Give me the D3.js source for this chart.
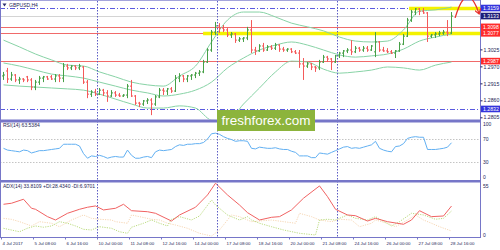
<!DOCTYPE html>
<html>
<head>
<meta charset="utf-8">
<script src="https://d3js.org/d3.v7.min.js"></script>
<style>
  body { margin:0; background:#ffffff; }
  svg text { font-family: "Liberation Sans", Arial, sans-serif; }
</style>
</head>
<body>
<svg id="chart" width="500" height="250"></svg>
<script>
// GBPUSD H4, 4 Jul 2017 00:00 .. 28 Jul 2017 16:00 (113 bars)
var opens = [1.2939,1.2955,1.2929,1.2942,1.2926,1.2929,1.2936,1.2926,1.2903,1.2919,
  1.2932,1.2936,1.2936,1.2929,1.2939,1.2932,1.2971,1.2965,1.2971,1.2965,
  1.2968,1.2919,1.2880,1.2887,1.2880,1.2893,1.2884,1.2874,1.2884,1.2877,
  1.2874,1.2877,1.2906,1.2874,1.2851,1.2848,1.2858,1.2861,1.2848,1.2871,
  1.2893,1.2890,1.2897,1.2890,1.2932,1.2939,1.2929,1.2939,1.2942,1.2948,
  1.2952,1.2984,1.3023,1.3081,1.3101,1.3094,1.3088,1.3072,1.3075,1.3055,
  1.3059,1.3062,1.3088,1.3023,1.3020,1.3036,1.3023,1.3033,1.3029,1.3039,
  1.3026,1.3023,1.3026,1.3017,1.3013,1.2978,1.2971,1.2978,1.2968,1.2965,
  1.2984,1.3000,1.2994,1.2984,1.3004,1.3013,1.3020,1.3023,1.3017,1.3029,
  1.3023,1.3029,1.3023,1.3017,1.3049,1.3023,1.3020,1.3017,1.3013,1.3020,
  1.3042,1.3068,1.3120,1.3146,1.3156,1.3149,1.3143,1.3068,1.3072,1.3075,
  1.3078,1.3081,1.3078];
var highs = [1.2952,1.2965,1.2952,1.2945,1.2936,1.2932,1.2939,1.2932,1.2926,1.2939,
  1.2939,1.2939,1.2942,1.2945,1.2945,1.2981,1.2978,1.2974,1.2974,1.2978,
  1.2971,1.2926,1.2893,1.2897,1.2900,1.2897,1.2893,1.2893,1.2890,1.2884,
  1.2880,1.2913,1.2926,1.2877,1.2855,1.2861,1.2867,1.2867,1.2877,1.2900,
  1.2900,1.2900,1.2903,1.2942,1.2948,1.2942,1.2942,1.2945,1.2952,1.2958,
  1.2991,1.3029,1.3088,1.3114,1.3110,1.3104,1.3094,1.3081,1.3078,1.3065,
  1.3065,1.3098,1.3120,1.3033,1.3042,1.3046,1.3039,1.3039,1.3046,1.3042,
  1.3033,1.3029,1.3029,1.3023,1.3023,1.2997,1.2984,1.2981,1.2971,1.2991,
  1.3007,1.3004,1.2997,1.3007,1.3017,1.3023,1.3029,1.3055,1.3036,1.3033,
  1.3036,1.3036,1.3039,1.3081,1.3052,1.3033,1.3029,1.3023,1.3023,1.3049,
  1.3075,1.3127,1.3153,1.3159,1.3159,1.3159,1.3146,1.3075,1.3081,1.3085,
  1.3088,1.3120,1.3146];
var lows = [1.2926,1.2916,1.2923,1.2919,1.2913,1.2919,1.2919,1.2893,1.2893,1.2910,
  1.2919,1.2926,1.2926,1.2919,1.2919,1.2919,1.2958,1.2958,1.2958,1.2958,
  1.2913,1.2867,1.2871,1.2874,1.2877,1.2874,1.2855,1.2871,1.2871,1.2871,
  1.2871,1.2867,1.2871,1.2845,1.2838,1.2842,1.2848,1.2812,1.2842,1.2867,
  1.2877,1.2877,1.2884,1.2887,1.2919,1.2919,1.2919,1.2926,1.2932,1.2939,
  1.2948,1.2981,1.3017,1.3072,1.3078,1.3081,1.3065,1.3062,1.3046,1.3049,
  1.3049,1.3055,1.3013,1.3007,1.3017,1.3017,1.3020,1.3023,1.3023,1.3017,
  1.3017,1.3017,1.3013,1.3010,1.2965,1.2926,1.2965,1.2958,1.2952,1.2958,
  1.2981,1.2984,1.2958,1.2981,1.2997,1.3000,1.3013,1.3007,1.3013,1.3017,
  1.3017,1.3017,1.3020,1.3000,1.3017,1.3017,1.3013,1.3010,1.2997,1.3017,
  1.3039,1.3065,1.3114,1.3136,1.3136,1.3140,1.3049,1.3062,1.3062,1.3068,
  1.3072,1.3068,1.3075];
var closes = [1.2942,1.2929,1.2942,1.2926,1.2929,1.2926,1.2926,1.2903,1.2919,1.2932,
  1.2936,1.2929,1.2929,1.2939,1.2932,1.2971,1.2965,1.2971,1.2965,1.2971,
  1.2919,1.2880,1.2887,1.2880,1.2893,1.2884,1.2874,1.2884,1.2877,1.2874,
  1.2877,1.2906,1.2874,1.2851,1.2848,1.2858,1.2861,1.2848,1.2871,1.2893,
  1.2890,1.2897,1.2890,1.2932,1.2939,1.2929,1.2939,1.2942,1.2948,1.2952,
  1.2984,1.3023,1.3081,1.3101,1.3094,1.3088,1.3072,1.3075,1.3055,1.3059,
  1.3062,1.3088,1.3023,1.3020,1.3036,1.3023,1.3033,1.3029,1.3039,1.3026,
  1.3023,1.3026,1.3017,1.3013,1.2978,1.2971,1.2978,1.2968,1.2965,1.2984,
  1.3000,1.2994,1.2984,1.3004,1.3013,1.3020,1.3023,1.3017,1.3029,1.3023,
  1.3029,1.3023,1.3036,1.3049,1.3023,1.3020,1.3017,1.3013,1.3020,1.3042,
  1.3068,1.3120,1.3146,1.3156,1.3149,1.3143,1.3068,1.3072,1.3075,1.3078,
  1.3081,1.3078,1.3133];

// Bollinger bands read every 4 bars
var bbIdx = [0,4,8,12,16,20,24,28,32,36,40,44,48,52,56,60,64,68,72,76,80,84,88,92,96,100,104,108,112];
var bbUpper = [1.3055,1.3033,1.3010,1.2991,1.2974,1.2971,1.2952,1.2936,1.2919,1.2910,1.2906,1.2939,1.2971,1.3049,1.3120,1.3146,1.3146,1.3130,1.3110,1.3098,1.3085,1.3065,1.3052,1.3049,1.3052,1.3088,1.3149,1.3153,1.3162];
var bbMiddle = [1.2981,1.2971,1.2958,1.2945,1.2939,1.2932,1.2919,1.2906,1.2893,1.2884,1.2874,1.2880,1.2893,1.2919,1.2965,1.2997,1.3023,1.3039,1.3049,1.3039,1.3023,1.3007,1.3000,1.3004,1.3010,1.3026,1.3052,1.3065,1.3075];
var bbLower = [1.2910,1.2906,1.2903,1.2900,1.2897,1.2893,1.2880,1.2864,1.2848,1.2835,1.2835,1.2842,1.2835,1.2796,1.2793,1.2848,1.2900,1.2952,1.2987,1.2984,1.2961,1.2948,1.2952,1.2958,1.2968,1.2965,1.2958,1.2974,1.2984];

var rsi = [54,51,50,49,48,51,50,46,48,50,
  50,51,52,53,54,61,61,61,61,58,
  45,37,41,40,42,40,37,39,40,39,
  39,51,42,37,37,39,40,38,48,51,
  50,51,52,57,60,59,61,61,62,62,
  64,70,79,80,78,74,71,69,66,67,
  67,66,54,53,56,55,54,54,55,53,
  52,52,49,47,41,41,41,38,38,46,
  45,44,47,50,53,56,57,54,55,54,
  56,58,60,66,54,51,49,48,57,58,
  62,71,73,74,73,73,52,52,52,53,
  54,56,63.5384];

// [bar, value]
var adxPts = [[0,35.7],[2,36.8],[5,41.1],[7,31.4],[8,30.3],[11,22.4],[13,18.8],[16,26],[19,30.3],[21,32.5],[23,33.9],[25,29.6],[28,31.4],[30,35.7],[32,28.8],[36,27.7],[38,26],[42,17.7],[44,24.2],[48,32.5],[51,45.7],[53,58.3],[56,45.7],[59,34.9],[61,26.7],[64,18.8],[67,21.7],[69,22.4],[72,29.6],[75,42.2],[79,55.4],[81,43.9],[83,30.3],[86,24.2],[88,23.4],[91,17.7],[93,20.6],[96,17],[100,14.2],[102,18.8],[104,28.8],[107,22.4],[110,23.1],[112,33.8109]];
var plusDiPts = [[0,9.9],[2,8],[4,6.2],[6,10],[8,12.4],[10,11],[12,12.4],[14,17],[16,15.3],[18,12.4],[20,8.8],[22,8.1],[24,11.6],[27,9.9],[29,6.2],[31,4.5],[32,11],[35,15.3],[37,18.8],[39,15.3],[41,12.4],[42,19.6],[44,22.4],[47,18.8],[49,23.1],[52,40.3],[53,34.9],[56,24.2],[59,18.8],[61,22.4],[62,18.8],[64,15.3],[67,11.6],[70,8.1],[74,4.5],[78,2.7],[79,18.8],[81,19.6],[83,18.8],[86,24.2],[88,20.6],[91,18.8],[93,22.4],[97,12.4],[99,17],[102,26],[105,24.2],[108,19.6],[110,20.6],[112,28.434]];
var minusDiPts = [[0,20.6],[2,19.5],[4,17],[7,12.4],[9,17],[12,15.3],[14,11.6],[17,18.8],[20,24.2],[22,20.6],[24,19.6],[27,18.8],[28,17],[31,15.3],[32,24.2],[34,22.4],[37,19.6],[39,18.8],[41,15.3],[43,13.4],[46,9.9],[49,4.5],[52,1.6],[54,8.1],[57,24.2],[59,22.4],[61,18.8],[62,17],[67,18.8],[70,17],[73,15.3],[74,26],[77,22.4],[79,18.8],[82,17],[84,19.6],[87,18.8],[89,11.6],[92,15.3],[93,18.8],[96,15.3],[98,11.6],[101,18.8],[103,24.2],[105,18.8],[107,15.3],[109,11.6],[112,6.9701]];

// levels and axis labels
var redLevels = [1.3098, 1.3077, 1.2987];
var blueLevels = [1.3159, 1.2832];
var bidPrice = 1.3133;
var yellowZones = [[49.9, 1.3077], [101.4, 1.3159]];   // [from bar, price]
var priceTicks = [1.3025, 1.2970, 1.2915, 1.2860, 1.2805];
var rsiLevels = [70, 30];
var rsiTicks = [100, 70, 30, 0];
var adxTicks = [55, 0];
var dateIdx = [0,8,16,24,32,40,48,56,64,72,80,88,96,104,112];
var dateLabels = ["4 Jul 2017","5 Jul 08:00","6 Jul 16:00","10 Jul 00:00","11 Jul 08:00","12 Jul 16:00","14 Jul 00:00","17 Jul 08:00","18 Jul 16:00","20 Jul 00:00","21 Jul 08:00","24 Jul 16:00","26 Jul 00:00","27 Jul 08:00","28 Jul 16:00"];
var weekStarts = [24, 54, 84];
var arrowPts = [[112.9, 1.3127], [115.9, 1.3256], [118.9, 1.3140]];

// layout
var axisX = 480;
var mainTop = 1, mainBot = 119.5, rsiTop = 122.5, rsiBot = 180, adxTop = 182.5, adxBot = 237;
var frameCol = '#7676c8', textCol = '#1d1d55';
var upCol = '#47a047', downCol = '#f45a5a';

var svg = d3.select('#chart');
svg.append('rect').attr('width',500).attr('height',250).attr('fill','#fff');

var x = d3.scaleLinear().domain([0,112]).range([3.5,451.5]);
var yP = d3.scaleLinear().domain([1.2805,1.3185]).range([117.3,0]);
var yR = d3.scaleLinear().domain([0,100]).range([179.8,121.5]);
var yA = d3.scaleLinear().domain([0,55]).range([237.5,186.3]);

function crisp(v){ return Math.round(v) + 0.5; }

var defs = svg.append('defs');
function clip(id, top, bot){
  defs.append('clipPath').attr('id',id).append('rect')
    .attr('x',1).attr('y',top).attr('width',axisX-1).attr('height',bot-top);
}
clip('clipMain', mainTop, mainBot);
clip('clipRsi', rsiTop, rsiBot);
clip('clipAdx', adxTop, adxBot);
defs.append('marker').attr('id','arrowHead').attr('viewBox','0 0 8 8')
  .attr('refX',6).attr('refY',4).attr('markerWidth',5).attr('markerHeight',5)
  .attr('orient','auto')
  .append('path').attr('d','M0,0 L6,4 L0,8').attr('fill','none')
  .attr('stroke','#e8322c').attr('stroke-width',1.6);

//---------------- main window
var main = svg.append('g').attr('clip-path','url(#clipMain)');

main.append('line').attr('x1',0).attr('x2',axisX)
  .attr('y1',crisp(yP(bidPrice))).attr('y2',crisp(yP(bidPrice)))
  .attr('stroke','#d4d4d4').attr('stroke-width',1);

main.selectAll('.blvl').data(blueLevels).enter().append('line')
  .attr('x1',0).attr('x2',axisX)
  .attr('y1',function(d){return crisp(yP(d));}).attr('y2',function(d){return crisp(yP(d));})
  .attr('stroke','#5a5ae0').attr('stroke-width',1).attr('stroke-dasharray','5,2,1,2');

main.selectAll('.rlvl').data(redLevels).enter().append('line')
  .attr('x1',0).attr('x2',axisX)
  .attr('y1',function(d){return crisp(yP(d));}).attr('y2',function(d){return crisp(yP(d));})
  .attr('stroke','#f06a6a').attr('stroke-width',1);

main.selectAll('.yz').data(yellowZones).enter().append('line')
  .attr('x1',function(d){return x(d[0]);}).attr('x2',axisX)
  .attr('y1',function(d){return crisp(yP(d[1]));}).attr('y2',function(d){return crisp(yP(d[1]));})
  .attr('stroke','#f4f200').attr('stroke-width',3.5);

// bollinger bands
var bandLine = d3.line()
  .x(function(d){return x(d[0]);})
  .y(function(d){return yP(d[1]);})
  .curve(d3.curveMonotoneX);
[bbUpper, bbMiddle, bbLower].forEach(function(band){
  main.append('path').datum(bbIdx.map(function(b,k){return [b, band[k]];}))
    .attr('d',bandLine).attr('fill','none')
    .attr('stroke','#88d3a6').attr('stroke-width',1);
});

// OHLC bars
main.selectAll('.bar').data(d3.range(closes.length)).enter().append('path')
  .attr('d',function(i){
    var cx = x(i);
    return 'M'+cx+','+yP(highs[i])+'V'+yP(lows[i])+
      'M'+(cx-1.5)+','+yP(opens[i])+'H'+cx+
      'M'+cx+','+yP(closes[i])+'H'+(cx+1.5);
  })
  .attr('fill','none').attr('stroke-width',1)
  .attr('stroke',function(i){return closes[i] >= opens[i] ? upCol : downCol;});

//---------------- RSI window
var rsiG = svg.append('g').attr('clip-path','url(#clipRsi)');
rsiG.selectAll('.rl').data(rsiLevels).enter().append('line')
  .attr('x1',0).attr('x2',axisX)
  .attr('y1',function(d){return crisp(yR(d));}).attr('y2',function(d){return crisp(yR(d));})
  .attr('stroke','#c4c4c4').attr('stroke-width',1).attr('stroke-dasharray','1.5,1.5');
rsiG.append('path').datum(rsi)
  .attr('d',d3.line().x(function(d,i){return x(i);}).y(function(d){return yR(d);}))
  .attr('fill','none').attr('stroke','#62b0f2').attr('stroke-width',1);

//---------------- ADX window
var adxG = svg.append('g').attr('clip-path','url(#clipAdx)');
var ptLine = d3.line().x(function(d){return x(d[0]);}).y(function(d){return yA(d[1]);});
adxG.append('path').datum(minusDiPts).attr('d',ptLine).attr('fill','none')
  .attr('stroke','#f6d6b4').attr('stroke-width',1).attr('stroke-dasharray','1.2,1.2');
adxG.append('path').datum(plusDiPts).attr('d',ptLine).attr('fill','none')
  .attr('stroke','#bcdc80').attr('stroke-width',1).attr('stroke-dasharray','1.2,1.2');
adxG.append('path').datum(adxPts).attr('d',ptLine).attr('fill','none')
  .attr('stroke','#f06262').attr('stroke-width',1);

//---------------- period separators, frame
svg.selectAll('.wk').data(weekStarts).enter().append('line')
  .attr('x1',function(d){return crisp(x(d)-2.5);}).attr('x2',function(d){return crisp(x(d)-2.5);})
  .attr('y1',1).attr('y2',adxBot)
  .attr('stroke','#5c5cc4').attr('stroke-width',1).attr('stroke-dasharray','1.5,1.5');

svg.append('line').attr('x1',0).attr('x2',axisX).attr('y1',0.5).attr('y2',0.5).attr('stroke','#a4a4dc');
svg.append('line').attr('x1',0.5).attr('x2',0.5).attr('y1',0).attr('y2',adxBot).attr('stroke',frameCol);
svg.append('line').attr('x1',axisX+0.5).attr('x2',axisX+0.5).attr('y1',0).attr('y2',adxBot+0.5).attr('stroke',frameCol);
svg.append('line').attr('x1',0).attr('x2',axisX+1).attr('y1',adxBot+0.5).attr('y2',adxBot+0.5).attr('stroke',frameCol);
svg.append('rect').attr('x',0).attr('y',mainBot).attr('width',axisX).attr('height',3).attr('fill',frameCol);
svg.append('rect').attr('x',0).attr('y',rsiBot).attr('width',axisX).attr('height',2.5).attr('fill',frameCol);

//---------------- right price scale
var pAxis = d3.axisRight(yP).tickValues(priceTicks).tickSize(2).tickPadding(1)
  .tickFormat(d3.format('.4f'));
var pAx = svg.append('g').attr('transform','translate('+(axisX+0.5)+',0)').call(pAxis);
pAx.select('.domain').remove();
pAx.selectAll('line').attr('stroke',textCol);
pAx.selectAll('text').attr('font-size',5.2).attr('fill',textCol)
  .attr('font-family','"Liberation Sans", Arial, sans-serif');

function tag(v, bg){
  var g = svg.append('g').attr('transform','translate('+(axisX+1)+','+yP(v)+')');
  g.append('rect').attr('x',0).attr('y',-3.3).attr('width',19).attr('height',6.6).attr('fill',bg);
  g.append('text').attr('x',2).attr('y',0).attr('dy','0.35em').attr('font-size',5.2)
    .attr('fill','#fff').text(d3.format('.4f')(v));
}
blueLevels.forEach(function(v){ tag(v,'#3434dc'); });
redLevels.forEach(function(v){ tag(v,'#ff2b2b'); });
tag(bidPrice,'#1e1e78');

// indicator scales
svg.selectAll('.rt').data(rsiTicks).enter().append('text')
  .attr('x',axisX+3).attr('dy','0.35em').attr('font-size',5).attr('fill',textCol)
  .attr('y',function(d){return Math.max(rsiTop+2, Math.min(rsiBot-3, yR(d)));})
  .text(function(d){return d;});
svg.selectAll('.at').data(adxTicks).enter().append('text')
  .attr('x',axisX+3).attr('dy','0.35em').attr('font-size',5).attr('fill',textCol)
  .attr('y',function(d){return Math.max(adxTop+2.5, Math.min(adxBot-1.5, yA(d)));})
  .text(function(d){return d;});

//---------------- time scale
var dt = svg.selectAll('.dt').data(dateIdx).enter().append('g')
  .attr('transform',function(d){return 'translate('+crisp(x(d)-3)+','+adxBot+')';});
dt.append('line').attr('x1',0).attr('x2',0).attr('y1',0).attr('y2',2.5).attr('stroke',frameCol);
dt.append('text').attr('x',1).attr('y',8).attr('font-size',4.4).attr('fill',textCol)
  .text(function(d,k){return dateLabels[k];});

//---------------- window captions
svg.append('path').attr('d','M2.5,3.5 L6.5,3.5 L4.5,6.5 Z').attr('fill','#2c2c6e');
svg.append('text').attr('x',9).attr('y',6.9).attr('font-size',5).attr('fill',textCol).text('GBPUSD,H4');
svg.append('text').attr('x',3).attr('y',127.3).attr('font-size',5).attr('fill',textCol)
  .text('RSI(14) ' + rsi[rsi.length-1].toFixed(4));
svg.append('text').attr('x',3).attr('y',187.5).attr('font-size',5).attr('fill',textCol)
  .text('ADX(14) ' + adxPts[adxPts.length-1][1].toFixed(4) +
        ' +DI:' + plusDiPts[plusDiPts.length-1][1].toFixed(4) +
        ' -DI:' + minusDiPts[minusDiPts.length-1][1].toFixed(4));

//---------------- red arrow annotation
var ap = d3.path();
ap.moveTo(x(arrowPts[0][0]), yP(arrowPts[0][1]));
ap.quadraticCurveTo(x(arrowPts[1][0]), yP(arrowPts[1][1]), x(arrowPts[2][0]), yP(arrowPts[2][1]));
svg.append('path').attr('d',ap.toString()).attr('fill','none')
  .attr('stroke','#e8322c').attr('stroke-width',1.3).attr('marker-end','url(#arrowHead)');

//---------------- watermark
svg.append('rect').attr('x',217).attr('y',110).attr('width',98).attr('height',21).attr('fill','#8cb43c');
svg.append('text').attr('x',266).attr('y',125).attr('text-anchor','middle')
  .attr('font-family','"Open Sans", sans-serif').attr('font-size',13.5)
  .attr('textLength',89).attr('lengthAdjust','spacingAndGlyphs')
  .attr('fill','#fff').text('freshforex.com');
</script>
</body>
</html>
